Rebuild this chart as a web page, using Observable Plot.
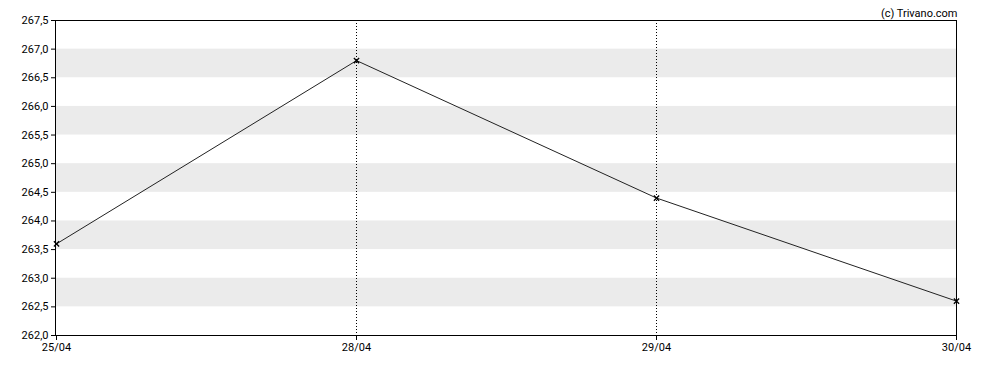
<!DOCTYPE html>
<html>
<head>
<meta charset="utf-8">
<script src="https://cdn.jsdelivr.net/npm/d3@7"></script>
<script src="https://cdn.jsdelivr.net/npm/@observablehq/plot@0.6"></script>
<style>
  html, body { margin: 0; padding: 0; background: #fff; }
  svg { display: block; }
</style>
</head>
<body>
<div id="chart"></div>
<script>
const dates = ["25/04", "28/04", "29/04", "30/04"];
const prices = [263.6, 266.8, 264.4, 262.6];
const yTicks = [262.0, 262.5, 263.0, 263.5, 264.0, 264.5, 265.0, 265.5, 266.0, 266.5, 267.0, 267.5];
const bandStarts = [262.5, 263.5, 264.5, 265.5, 266.5];
const gridDates = ["28/04", "29/04"];
const credit = "(c) Trivano.com";

const data = dates.map((d, i) => ({date: d, price: prices[i]}));
const bands = bandStarts.map(b => ({y1: b, y2: b + 0.5}));
const fmt = d => d.toFixed(1).replace(".", ",");

const chart = Plot.plot({
  width: 988,
  height: 370,
  marginLeft: 55,
  marginRight: 32,
  marginTop: 20,
  marginBottom: 35,
  style: {fontFamily: "Roboto, 'Liberation Sans', sans-serif", fontSize: "11px", color: "#000", background: "#fff"},
  x: {type: "point", domain: dates, padding: 0, label: null},
  y: {domain: [262, 267.5], label: null},
  marks: [
    Plot.rectY(bands, {y1: "y1", y2: "y2", fill: "#ebebeb"}),
    Plot.ruleX(gridDates, {stroke: "#000", strokeDasharray: "1,2", strokeWidth: 1}),
    Plot.frame({stroke: "#000", strokeWidth: 1}),
    Plot.axisY({ticks: yTicks, tickFormat: fmt, tickSize: 4, tickPadding: 3, fontSize: 11, label: null, stroke: "#000"}),
    Plot.axisX({tickSize: 5, tickPadding: 3, fontSize: 11, label: null, stroke: "#000"}),
    Plot.line(data, {x: "date", y: "price", stroke: "#222", strokeWidth: 1}),
    Plot.dot(data, {x: "date", y: "price", symbol: "times", r: 2.5, stroke: "#000", strokeWidth: 1.3}),
    Plot.text([credit], {frameAnchor: "top-right", dy: -11, dx: 1, text: d => d, fontSize: 11, fill: "#000", textAnchor: "end"})
  ]
});
document.getElementById("chart").appendChild(chart);
</script>
</body>
</html>
